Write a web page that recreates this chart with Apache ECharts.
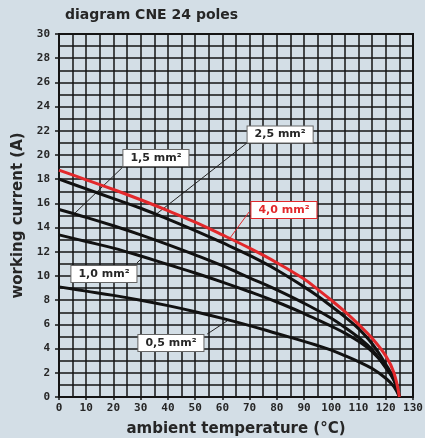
<!DOCTYPE html>
<html>
<head>
<meta charset="utf-8">
<script src="https://cdn.jsdelivr.net/npm/echarts@6/dist/echarts.min.js"></script>
<style>
html,body{margin:0;padding:0;background:#d3dee6;}
#c{width:425px;height:438px;}
</style>
</head>
<body>
<div id="c"></div>
<script>
// ambient temperature (°C) sample points
const temps = [0, 10, 20, 30, 40, 50, 60, 70, 80, 90, 95, 100, 105, 110, 115, 120, 123, 125];
// working current (A) per cross-section
const i05 = [9.1, 8.75, 8.4, 8.0, 7.55, 7.05, 6.5, 5.9, 5.25, 4.6, 4.25, 3.88, 3.42, 2.92, 2.35, 1.55, 0.85, 0];
const i10 = [13.4, 12.85, 12.3, 11.65, 10.95, 10.25, 9.5, 8.7, 7.85, 6.9, 6.38, 5.85, 5.28, 4.6, 3.75, 2.5, 1.4, 0];
const i15 = [15.5, 14.85, 14.15, 13.4, 12.6, 11.75, 10.85, 9.85, 8.85, 7.75, 7.15, 6.5, 5.75, 4.92, 3.9, 2.4, 1.4, 0];
const i25 = [18.0, 17.2, 16.4, 15.6, 14.7, 13.75, 12.75, 11.7, 10.5, 9.1, 8.35, 7.5, 6.62, 5.65, 4.4, 2.7, 1.5, 0];
const i40 = [18.75, 17.95, 17.15, 16.3, 15.4, 14.45, 13.4, 12.3, 11.1, 9.75, 8.9, 8.0, 7.05, 6.0, 4.85, 3.4, 2.0, 0];
const seriesNames = ['0,5 mm²', '1,0 mm²', '1,5 mm²', '2,5 mm²', '4,0 mm²'];

const TXT = '#262626';
const GRIDC = '#141414';
const boxLabel = {
  show: true, position: 'inside', formatter: '{b}',
  fontFamily: 'DejaVu Sans', fontWeight: 'bold', fontSize: 11, color: '#262626',
  backgroundColor: '#ffffff', borderColor: '#666', borderWidth: 1, padding: [3, 7, 2, 7]
};
function pairs(arr){ return temps.map((t, k) => [t, arr[k]]); }
function curve(name, arr, color, extra){
  return Object.assign({
    name: name, type: 'line', data: pairs(arr), showSymbol: false, symbol: 'none',
    smooth: 0.4,
    lineStyle: { color: color, width: 3 }, z: 5
  }, extra || {});
}
const leaderStyle = { color: '#222', width: 1, type: 'solid' };

const chart = echarts.init(document.getElementById('c'), null, { renderer: 'canvas' });
chart.setOption({
  animation: false,
  backgroundColor: '#d3dee6',
  title: {
    text: 'diagram CNE 24 poles', left: 60, top: 3,
    textStyle: { fontFamily: 'DejaVu Sans', fontWeight: 'bold', fontSize: 14, color: TXT }
  },
  grid: {
    left: 59, right: 12, top: 34, bottom: 41, containLabel: false, outerBoundsMode: 'none',
    show: true, borderColor: GRIDC, borderWidth: 2, backgroundColor: 'transparent'
  },
  xAxis: {
    type: 'value', min: 0, max: 130, interval: 10,
    name: 'ambient temperature (°C)', nameLocation: 'middle', nameGap: 25,
    nameTextStyle: { fontFamily: 'DejaVu Sans', fontWeight: 'bold', fontSize: 15, color: TXT },
    axisLine: { show: true, lineStyle: { color: GRIDC, width: 2 } },
    axisTick: { show: true, length: 3, lineStyle: { color: GRIDC, width: 1.5 } },
    axisLabel: { fontFamily: 'DejaVu Sans Mono', fontWeight: 'bold', fontSize: 11, color: TXT, margin: 6 },
    splitLine: { show: true, lineStyle: { color: GRIDC, width: 1.5 } },
    minorTick: { show: false, splitNumber: 2 },
    minorSplitLine: { show: true, lineStyle: { color: GRIDC, width: 1.5 } }
  },
  yAxis: {
    type: 'value', min: 0, max: 30, interval: 2,
    name: 'working current (A)', nameLocation: 'middle', nameGap: 31,
    nameTextStyle: { fontFamily: 'DejaVu Sans', fontWeight: 'bold', fontSize: 15, color: TXT },
    axisLine: { show: true, lineStyle: { color: GRIDC, width: 2 } },
    axisTick: { show: true, length: 4, lineStyle: { color: GRIDC, width: 1.5 } },
    axisLabel: { fontFamily: 'DejaVu Sans Mono', fontWeight: 'bold', fontSize: 11, color: TXT, margin: 9 },
    splitLine: { show: true, lineStyle: { color: GRIDC, width: 1.5 } },
    minorTick: { show: false, splitNumber: 2 },
    minorSplitLine: { show: true, lineStyle: { color: GRIDC, width: 1.5 } }
  },
  series: [
    curve(seriesNames[0], i05, '#111', {
      markLine: {
        silent: true, symbol: ['none', 'none'], label: { show: false }, lineStyle: leaderStyle,
        data: [
          [{ coord: [54.4, 5.2] }, { coord: [61.7, 6.28] }],
          [{ coord: [28.6, 11.07] }, { coord: [30.5, 11.49] }],
          [{ coord: [23.1, 18.93] }, { coord: [5.9, 15.21] }],
          [{ coord: [69.0, 20.99] }, { coord: [35.3, 15.04] }]
        ]
      },
      markPoint: {
        silent: true, symbol: 'rect', symbolSize: 0, label: boxLabel,
        data: [
          { name: seriesNames[0], coord: [41.1, 4.46] },
          { name: seriesNames[1], coord: [16.5, 10.17] },
          { name: seriesNames[2], coord: [35.6, 19.75] },
          { name: seriesNames[3], coord: [81.2, 21.7] }
        ]
      }
    }),
    curve(seriesNames[1], i10, '#111'),
    curve(seriesNames[2], i15, '#111'),
    curve(seriesNames[3], i25, '#111'),
    curve(seriesNames[4], i40, '#e2282b', {
      z: 6,
      markLine: {
        silent: true, symbol: ['none', 'none'], label: { show: false },
        lineStyle: { color: '#e2282b', width: 1, type: 'solid' },
        data: [[{ coord: [69.8, 15.29] }, { coord: [62.8, 13.14] }]]
      },
      markPoint: {
        silent: true, symbol: 'rect', symbolSize: 0,
        label: Object.assign({}, boxLabel, { color: '#e2282b', borderColor: '#e2282b' }),
        data: [{ name: seriesNames[4], coord: [82.6, 15.45] }]
      }
    })
  ]
});
</script>
</body>
</html>
